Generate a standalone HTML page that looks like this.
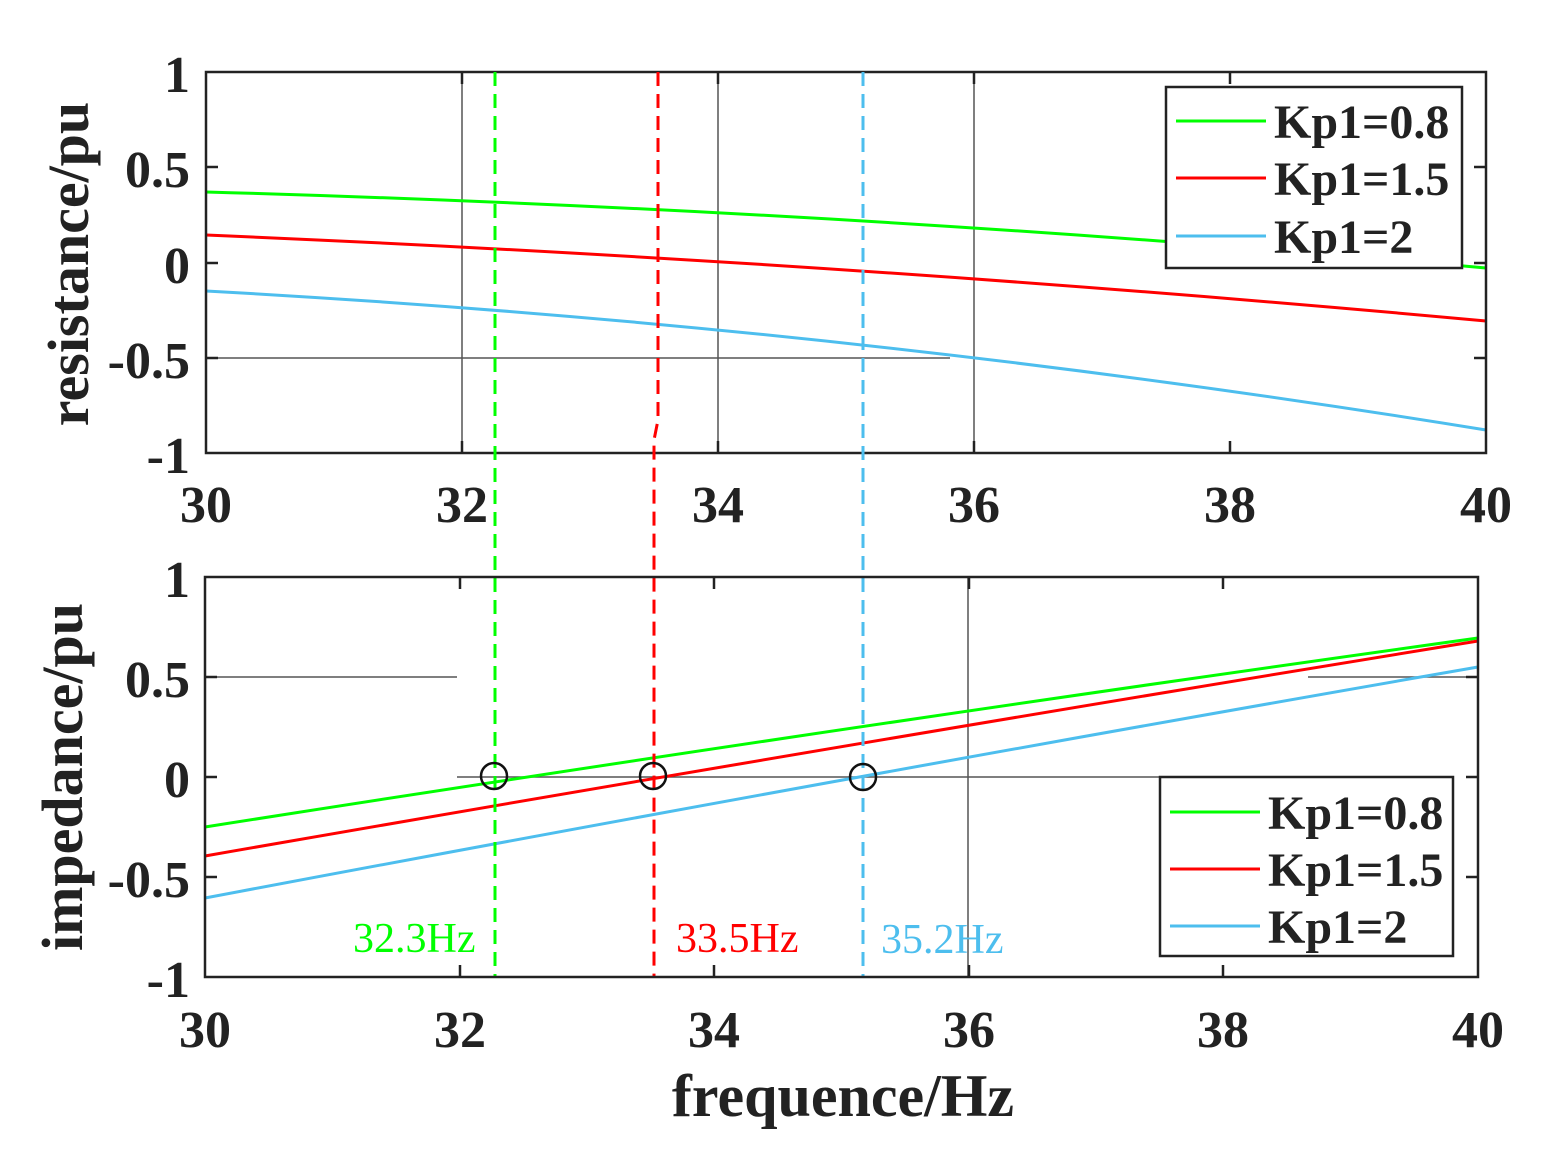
<!DOCTYPE html>
<html><head><meta charset="utf-8"><style>
body{margin:0;background:#fff}
text{font-family:"Liberation Serif",serif;font-weight:bold;fill:#222}
</style></head><body>
<svg width="1550" height="1157" viewBox="0 0 1550 1157" xmlns="http://www.w3.org/2000/svg">
<rect width="1550" height="1157" fill="#fff"/>
<g stroke="#555" stroke-width="1.5">
<line x1="462" y1="72" x2="462" y2="453"/><line x1="718" y1="72" x2="718" y2="453"/><line x1="974" y1="72" x2="974" y2="453"/>
<line x1="206" y1="358" x2="950" y2="358"/>
</g>
<g fill="none" stroke-width="3">
<path d="M206,192 Q846,210 1486,268" stroke="#00ff00"/>
<path d="M206,235 Q846,262 1486,321" stroke="#ff0000"/>
<path d="M206,291 Q846,326 1486,430" stroke="#4dbeee"/>
</g>
<rect x="206" y="72" width="1280" height="381" fill="none" stroke="#222" stroke-width="2.5"/>
<g stroke="#222" stroke-width="2.5">
<path d="M462,453v-12M718,453v-12M974,453v-12M1230,453v-12M462,72v12M718,72v12M974,72v12M1230,72v12"/>
<path d="M206,167h12M206,263h12M206,358h12M1486,167h-12M1486,263h-12M1486,358h-12"/>
</g>
<g font-size="52" text-anchor="middle">
<text x="206" y="522">30</text><text x="462" y="522">32</text><text x="718" y="522">34</text><text x="974" y="522">36</text><text x="1230" y="522">38</text><text x="1486" y="522">40</text>
</g>
<g font-size="52" text-anchor="end">
<text x="190" y="92">1</text><text x="190" y="187">0.5</text><text x="190" y="283">0</text><text x="190" y="378">-0.5</text><text x="190" y="473">-1</text>
</g>
<text font-size="58" transform="translate(88,264) rotate(-90)" text-anchor="middle">resistance/pu</text>
<rect x="1166" y="87" width="296" height="181" fill="#fff" stroke="#222" stroke-width="2.5"/>
<g stroke-width="3"><line x1="1176" y1="121" x2="1266" y2="121" stroke="#00ff00"/><line x1="1176" y1="178" x2="1266" y2="178" stroke="#ff0000"/><line x1="1176" y1="236" x2="1266" y2="236" stroke="#4dbeee"/></g>
<g font-size="48"><text x="1274" y="138">Kp1=0.8</text><text x="1274" y="195">Kp1=1.5</text><text x="1274" y="253">Kp1=2</text></g>

<g stroke="#555" stroke-width="1.5">
<line x1="968" y1="577" x2="968" y2="977"/>
<line x1="206" y1="677" x2="457" y2="677"/><line x1="1308" y1="677" x2="1478" y2="677"/>
<line x1="457" y1="777" x2="1308" y2="777"/>
</g>
<g fill="none" stroke-width="3">
<path d="M205,827 Q841,727 1478,638" stroke="#00ff00"/>
<path d="M205,856 Q841,745 1478,641" stroke="#ff0000"/>
<path d="M205,898 Q841,778 1478,667" stroke="#4dbeee"/>
</g>
<g stroke-width="3" stroke-dasharray="14,8" fill="none">
<line x1="495" y1="72" x2="495" y2="977" stroke="#00ff00"/>
<path d="M658,72 L658,420 L654,440 L654,977" stroke="#ff0000"/>
<line x1="863" y1="72" x2="863" y2="977" stroke="#4dbeee"/>
</g>
<g fill="none" stroke="#111" stroke-width="2.5">
<circle cx="494" cy="776" r="13"/><circle cx="653" cy="776" r="13"/><circle cx="863" cy="777" r="13"/>
</g>
<rect x="205" y="577" width="1273" height="400" fill="none" stroke="#222" stroke-width="2.5"/>
<g stroke="#222" stroke-width="2.5">
<path d="M460,977v-12M714,977v-12M969,977v-12M1223,977v-12M460,577v12M714,577v12M969,577v12M1223,577v12"/>
<path d="M205,677h12M205,777h12M205,877h12M1478,677h-12M1478,777h-12M1478,877h-12"/>
</g>
<g font-size="52" text-anchor="middle">
<text x="205" y="1047">30</text><text x="460" y="1047">32</text><text x="714" y="1047">34</text><text x="969" y="1047">36</text><text x="1223" y="1047">38</text><text x="1478" y="1047">40</text>
</g>
<g font-size="52" text-anchor="end">
<text x="190" y="597">1</text><text x="190" y="697">0.5</text><text x="190" y="797">0</text><text x="190" y="897">-0.5</text><text x="190" y="997">-1</text>
</g>
<text font-size="58" transform="translate(82,777) rotate(-90)" text-anchor="middle">impedance/pu</text>
<text font-size="60" x="843" y="1116" text-anchor="middle">frequence/Hz</text>
<text x="353" y="952" font-size="42" style="fill:#00ff00;font-weight:normal">32.3Hz</text>
<text x="676" y="952" font-size="42" style="fill:#ff0000;font-weight:normal">33.5Hz</text>
<text x="881" y="953" font-size="42" style="fill:#4dbeee;font-weight:normal">35.2Hz</text>
<rect x="1160" y="777" width="293" height="179" fill="#fff" stroke="#222" stroke-width="2.5"/>
<g stroke-width="3"><line x1="1170" y1="812" x2="1260" y2="812" stroke="#00ff00"/><line x1="1170" y1="869" x2="1260" y2="869" stroke="#ff0000"/><line x1="1170" y1="926" x2="1260" y2="926" stroke="#4dbeee"/></g>
<g font-size="48"><text x="1268" y="829">Kp1=0.8</text><text x="1268" y="886">Kp1=1.5</text><text x="1268" y="943">Kp1=2</text></g>
</svg>
</body></html>
